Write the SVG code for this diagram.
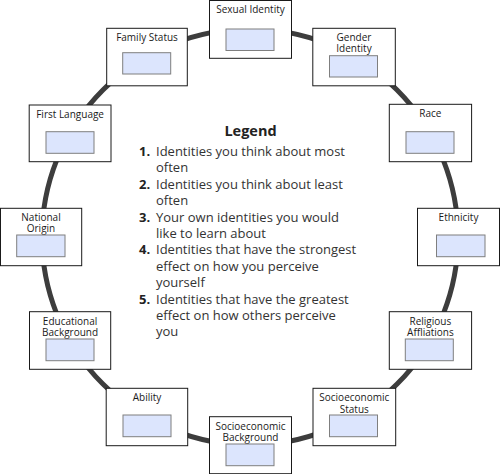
<svg xmlns="http://www.w3.org/2000/svg" width="500" height="474" viewBox="0 0 500 474">
<style>
.box{fill:#ffffff;stroke:#1a1a1a;stroke-width:1}
.slot{fill:#dce5fd;stroke:#7f7f7f;stroke-width:1}
.lbl{font-family:"Open Sans","Liberation Sans",sans-serif;font-size:10px;fill:#1a1a1a;text-anchor:middle}
.ring{fill:none;stroke:#3d3d3d;stroke-width:5}
.lt{font-family:"Open Sans","Liberation Sans",sans-serif;font-size:13px;fill:#333333}
.num{font-weight:bold;fill:#222222}
.title{font-family:"Open Sans","Liberation Sans",sans-serif;font-size:14.5px;font-weight:bold;fill:#222222;text-anchor:middle}
</style>
<rect x="0" y="0" width="500" height="474" fill="#ffffff"/>
<g id="connectors">
<circle class="ring" cx="250" cy="237" r="208"/>
</g>
<g id="sexual-identity">
<rect class="box" x="209.5" y="0.5" width="82" height="57.8"/>
<text class="lbl" x="250.5" y="12.8">Sexual Identity</text>
<rect class="slot" x="226" y="29" width="48" height="21.5"/>
</g>
<g id="gender-identity">
<rect class="box" x="312.8" y="28.3" width="82.5" height="57.5"/>
<text class="lbl" x="354" y="40.8">Gender</text>
<text class="lbl" x="354" y="52.3">Identity</text>
<rect class="slot" x="329.5" y="55.7" width="48" height="21.3"/>
</g>
<g id="race">
<rect class="box" x="389.3" y="104.3" width="82.3" height="57.4"/>
<text class="lbl" x="430.4" y="117.2">Race</text>
<rect class="slot" x="406" y="131.7" width="48" height="21.6"/>
</g>
<g id="ethnicity">
<rect class="box" x="417.5" y="208.3" width="82" height="57.4"/>
<text class="lbl" x="458.5" y="221.2">Ethnicity</text>
<rect class="slot" x="436.5" y="235" width="48.5" height="21.7"/>
</g>
<g id="religious-affliations">
<rect class="box" x="389.3" y="311.7" width="82.3" height="57.6"/>
<text class="lbl" x="430.4" y="324.5">Religious</text>
<text class="lbl" x="430.4" y="336">Affliations</text>
<rect class="slot" x="405.3" y="339" width="48" height="21.7"/>
</g>
<g id="socioeconomic-status">
<rect class="box" x="313" y="388.3" width="82.7" height="57.4"/>
<text class="lbl" x="354.3" y="401.1">Socioeconomic</text>
<text class="lbl" x="354.3" y="412.6">Status</text>
<rect class="slot" x="329.5" y="415" width="48" height="21.7"/>
</g>
<g id="socioeconomic-background">
<rect class="box" x="209.5" y="416.7" width="82" height="57"/>
<text class="lbl" x="250.5" y="429.5">Socioeconomic</text>
<text class="lbl" x="250.5" y="441">Background</text>
<rect class="slot" x="226" y="444" width="48" height="21.7"/>
</g>
<g id="ability">
<rect class="box" x="106.2" y="388.3" width="81.5" height="57.4"/>
<text class="lbl" x="147" y="401.3">Ability</text>
<rect class="slot" x="123" y="415" width="48" height="21.7"/>
</g>
<g id="educational-background">
<rect class="box" x="29.5" y="311.7" width="81.2" height="57.6"/>
<text class="lbl" x="70.1" y="324.8">Educational</text>
<text class="lbl" x="70.1" y="336.3">Background</text>
<rect class="slot" x="46" y="339" width="48" height="21.7"/>
</g>
<g id="national-origin">
<rect class="box" x="0.5" y="208.3" width="81.2" height="57.4"/>
<text class="lbl" x="41" y="220.8">National</text>
<text class="lbl" x="41" y="232.3">Origin</text>
<rect class="slot" x="16.7" y="235" width="48.3" height="21.7"/>
</g>
<g id="first-language">
<rect class="box" x="29.2" y="105" width="81.8" height="56.7"/>
<text class="lbl" x="70.1" y="117.8">First Language</text>
<rect class="slot" x="46" y="131.7" width="48" height="21.6"/>
</g>
<g id="family-status">
<rect class="box" x="106.7" y="28.3" width="80.6" height="57.5"/>
<text class="lbl" x="147" y="40.8">Family Status</text>
<rect class="slot" x="122.7" y="52.7" width="48" height="21.3"/>
</g>
<g id="legend">
<text class="title" x="250.5" y="136">Legend</text>
<text class="lt"><tspan class="num" x="139" y="156">1.</tspan><tspan x="156" y="156">Identities you think about most</tspan><tspan x="156" y="172.4">often</tspan></text>
<text class="lt"><tspan class="num" x="139" y="188.8">2.</tspan><tspan x="156" y="188.8">Identities you think about least</tspan><tspan x="156" y="205.2">often</tspan></text>
<text class="lt"><tspan class="num" x="139" y="221.6">3.</tspan><tspan x="156" y="221.6">Your own identities you would</tspan><tspan x="156" y="238">like to learn about</tspan></text>
<text class="lt"><tspan class="num" x="139" y="254.4">4.</tspan><tspan x="156" y="254.4">Identities that have the strongest</tspan><tspan x="156" y="270.8">effect on how you perceive</tspan><tspan x="156" y="287.2">yourself</tspan></text>
<text class="lt"><tspan class="num" x="139" y="303.6">5.</tspan><tspan x="156" y="303.6">Identities that have the greatest</tspan><tspan x="156" y="320">effect on how others perceive</tspan><tspan x="156" y="336.4">you</tspan></text>
</g>
</svg>
